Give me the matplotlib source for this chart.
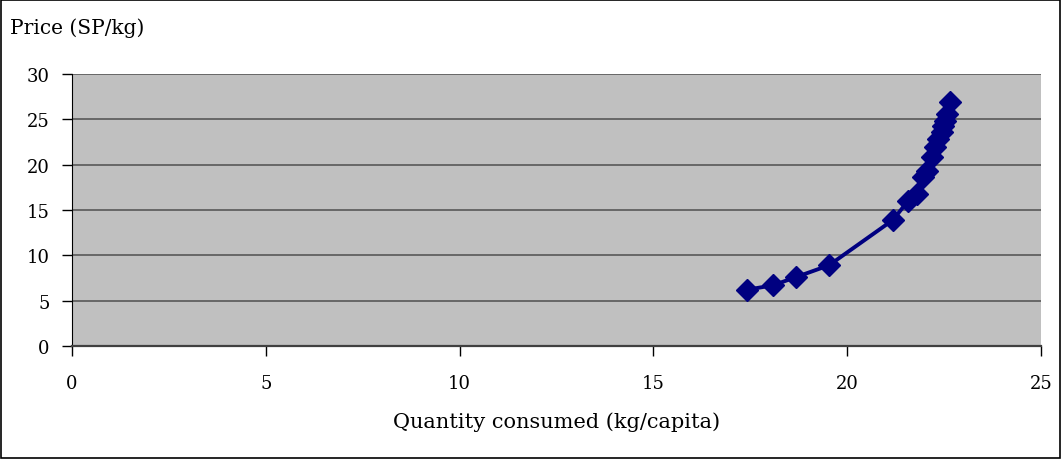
import matplotlib
matplotlib.use("Agg")
import matplotlib.pyplot as plt
from matplotlib.patches import Rectangle

# Per-capita consumption (kg/capita) and price (SP/kg)
quantity = [17.41, 18.09, 18.68, 19.53, 21.18, 21.57, 21.80, 21.96, 22.06,
            22.19, 22.26, 22.34, 22.45, 22.47, 22.52, 22.57, 22.65]
price = [6.2, 6.7, 7.6, 8.9, 13.9, 16.0, 16.8, 18.6, 19.3,
         20.9, 21.9, 22.8, 23.6, 24.3, 24.8, 25.6, 26.9]

x_ticks = [0, 5, 10, 15, 20, 25]
y_ticks = [0, 5, 10, 15, 20, 25, 30]

plt.rcParams['font.family'] = ['DejaVu Serif']

W, H = 1061, 460
fig = plt.figure(figsize=(W / 100, H / 100), dpi=100)
fig.patch.set_facecolor('white')
fig.add_artist(Rectangle((1 / W, 1 / H), 1 - 2 / W, 1 - 2 / H, transform=fig.transFigure,
                         fill=False, edgecolor='black', linewidth=1.2))

left, right, top, bottom = 72, 1041, 75, 347
ax = fig.add_axes([left / W, 1 - bottom / H, (right - left) / W, (bottom - top) / H])
ax.set_facecolor('#C0C0C0')
ax.set_xlim(0, 25)
ax.set_ylim(0, 30)
ax.set_xticks(x_ticks)
ax.set_yticks(y_ticks)
ax.tick_params(direction='out', length=7, width=1, labelsize=13)
ax.tick_params(axis='y', pad=9)
ax.tick_params(axis='x', pad=13)
ax.grid(axis='y', color='#606060', linewidth=1.3)
ax.set_axisbelow(True)
for side in ['top', 'right']:
    ax.spines[side].set_visible(False)
ax.spines['left'].set_color('black')
ax.spines['bottom'].set_color('#404040')
ax.spines['bottom'].set_linewidth(1.6)

ax.plot(quantity, price, color='#000080', linewidth=2.8, marker='D',
        markersize=11.5, markerfacecolor='#000080', markeredgecolor='#000080', zorder=3)

ax.set_xlabel('Quantity consumed (kg/capita)', fontsize=15, labelpad=14)
fig.text(10 / W, 1 - 28 / H, 'Price (SP/kg)', fontsize=14.5, va='center', ha='left')

fig.savefig('out.png', dpi=100)
